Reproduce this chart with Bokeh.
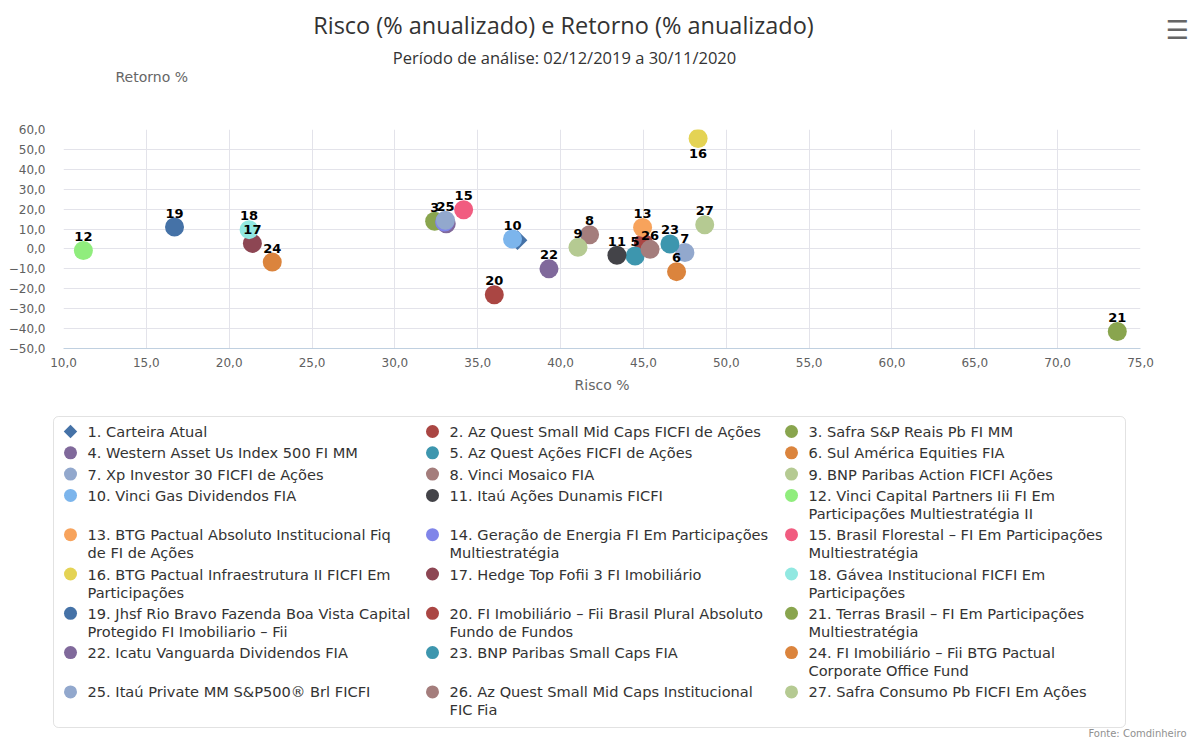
import numpy as np
from bokeh.plotting import figure
from bokeh.models import (Range1d, FixedTicker, CustomJSTickFormatter,
                          ColumnDataSource, BoxAnnotation)
from bokeh.embed import file_html
from bokeh.resources import INLINE
from bokeh.core.properties import value

# ---------------- data ----------------
ids = list(range(1, 28))
risco = [37.4, 45.0, 32.4, 33.1, 44.5, 47.0, 47.5, 41.75, 41.05, 37.1,
         43.4, 11.2, 44.95, 33.0, 34.15, 48.3, 21.4, 21.2, 16.7, 36.0,
         73.6, 39.3, 46.6, 22.6, 33.05, 45.4, 48.7]
retorno = [4.4, 3.0, 13.9, 12.7, -3.5, -11.4, -1.8, 7.1, 0.8, 5.0,
           -3.2, -0.8, 10.8, 13.5, 19.7, 55.5, 2.8, 9.7, 11.0, -23.0,
           -41.5, -10.0, 2.5, -6.6, 14.4, -0.2, 12.2]
names = [
    "Carteira Atual",
    "Az Quest Small Mid Caps FICFI de Ações",
    "Safra S&P Reais Pb FI MM",
    "Western Asset Us Index 500 FI MM",
    "Az Quest Ações FICFI de Ações",
    "Sul América Equities FIA",
    "Xp Investor 30 FICFI de Ações",
    "Vinci Mosaico FIA",
    "BNP Paribas Action FICFI Ações",
    "Vinci Gas Dividendos FIA",
    "Itaú Ações Dunamis FICFI",
    "Vinci Capital Partners Iii FI Em\nParticipações Multiestratégia II",
    "BTG Pactual Absoluto Institucional Fiq\nde FI de Ações",
    "Geração de Energia FI Em Participações\nMultiestratégia",
    "Brasil Florestal – FI Em Participações\nMultiestratégia",
    "BTG Pactual Infraestrutura II FICFI Em\nParticipações",
    "Hedge Top Fofii 3 FI Imobiliário",
    "Gávea Institucional FICFI Em\nParticipações",
    "Jhsf Rio Bravo Fazenda Boa Vista Capital\nProtegido FI Imobiliario – Fii",
    "FI Imobiliário – Fii Brasil Plural Absoluto\nFundo de Fundos",
    "Terras Brasil – FI Em Participações\nMultiestratégia",
    "Icatu Vanguarda Dividendos FIA",
    "BNP Paribas Small Caps FIA",
    "FI Imobiliário – Fii BTG Pactual\nCorporate Office Fund",
    "Itaú Private MM S&P500® Brl FICFI",
    "Az Quest Small Mid Caps Institucional\nFIC Fia",
    "Safra Consumo Pb FICFI Em Ações",
]
palette_a = ["#4572A7", "#AA4643", "#89A54E", "#80699B", "#3D96AE",
             "#DB843D", "#92A8CD", "#A47D7C", "#B5CA92"]
palette_b = ["#7cb5ec", "#434348", "#90ed7d", "#f7a35c", "#8085e9",
             "#f15c80", "#e4d354", "#8d4653", "#91e8e1"]
colors = palette_a + palette_b + palette_a
hidden_labels = [1, 2, 4, 14]
x_ticks = [10, 15, 20, 25, 30, 35, 40, 45, 50, 55, 60, 65, 70, 75]
y_ticks = [-50, -40, -30, -20, -10, 0, 10, 20, 30, 40, 50, 60]

title_txt = "Risco (% anualizado) e Retorno (% anualizado)"
subtitle_txt = "Período de análise: 02/12/2019 a 30/11/2020"
y_title_txt = "Retorno %"
x_title_txt = "Risco %"
source_txt = "Fonte: Comdinheiro"

W = 1188


def blank_fig(h):
    f = figure(width=W, height=h, output_backend="svg", toolbar_location=None,
               x_range=Range1d(0, W), y_range=Range1d(h, 0),
               x_axis_location=None, y_axis_location=None,
               min_border=0, min_border_left=0, min_border_right=0,
               min_border_top=0, min_border_bottom=0)
    f.outline_line_color = None
    f.grid.grid_line_color = None
    return f


# ---------------- header ----------------
HH = 100
hdr = blank_fig(HH)
hdr.text([563], [24], text=[title_txt], text_align="center", text_baseline="middle",
         text_font=value("Open Sans"), text_font_size="23.5px", text_color="#333333")
hdr.text([564], [57], text=[subtitle_txt], text_align="center", text_baseline="middle",
         text_font=value("Open Sans"), text_font_size="16.5px", text_color="#333333")
hdr.text([115], [76], text=[y_title_txt], text_align="left", text_baseline="middle",
         text_font=value("DejaVu Sans"), text_font_size="14px", text_color="#666666")
hdr.text([1177], [29], text=["\u2630"], text_align="center", text_baseline="middle",
         text_font=value("DejaVu Sans"), text_font_size="26px", text_font_style="bold",
         text_color="#666666")

# ---------------- chart ----------------
p = figure(width=W, height=300, output_backend="svg", toolbar_location=None,
           x_range=Range1d(10, 75), y_range=Range1d(-50, 60),
           min_border_left=63, min_border_right=W - 1140, min_border_top=29,
           min_border_bottom=52)
p.outline_line_color = None

fmt = CustomJSTickFormatter(code="return tick.toFixed(1).replace('.', ',').replace('-', '\u2212');")
p.xaxis.ticker = FixedTicker(ticks=x_ticks)
p.yaxis.ticker = FixedTicker(ticks=y_ticks)
for ax in (p.xaxis[0], p.yaxis[0]):
    ax.formatter = fmt
    ax.major_tick_in = 0
    ax.major_tick_out = 0
    ax.minor_tick_in = 0
    ax.minor_tick_out = 0
    ax.major_label_text_font = "DejaVu Sans"
    ax.major_label_text_font_size = "12px"
    ax.major_label_text_color = "#606060"
p.xaxis.axis_line_color = "#C0D0E0"
p.xaxis.major_label_standoff = 9
p.xaxis.axis_label = x_title_txt
p.xaxis.axis_label_text_font = "DejaVu Sans"
p.xaxis.axis_label_text_font_size = "14px"
p.xaxis.axis_label_text_font_style = "normal"
p.xaxis.axis_label_text_color = "#666666"
p.xaxis.axis_label_standoff = 7
p.yaxis.axis_line_color = None
p.yaxis.major_label_standoff = 18
p.grid.grid_line_color = "#e3e3ea"
p.grid.grid_line_width = 1

p.scatter([risco[0]], [retorno[0]], marker="square", angle=np.pi / 4, size=14,
          fill_color=colors[0], line_color=None)
src = ColumnDataSource(dict(x=risco[1:], y=retorno[1:], c=colors[1:]))
p.scatter("x", "y", source=src, marker="circle", size=19, fill_color="c",
          line_color=None)

above = dict(x=[], y=[], t=[])
below = dict(x=[], y=[], t=[])
for i, xv, yv in zip(ids, risco, retorno):
    if i in hidden_labels:
        continue
    d = below if yv > 50 else above
    d["x"].append(xv); d["y"].append(yv); d["t"].append(str(i))
common = dict(text_align="center", text_baseline="middle",
              text_font=value("DejaVu Sans"), text_font_style="bold",
              text_font_size="13px", text_color="#000000")
p.text("x", "y", text="t", source=ColumnDataSource(above), y_offset=-14, **common)
p.text("x", "y", text="t", source=ColumnDataSource(below), y_offset=15, **common)

# ---------------- legend ----------------
LH = 338
leg = blank_fig(LH)
leg.add_layout(BoxAnnotation(left=53, right=1125, top=16, bottom=327,
                             fill_alpha=0, line_color="#a0a0a0", line_width=1,
                             border_radius=5))

col_marker_x = [70, 432, 791]
text_dx = 17
row_y0 = 31
row_step = 21.3
line_h = 18
mk = dict(x=[], y=[], c=[])
tx = dict(x=[], y=[], t=[])
dia = dict(x=[], y=[], c=[])
yrow = row_y0
for r in range(0, len(ids), 3):
    row = ids[r:r + 3]
    nlines = max(len(names[i - 1].split("\n")) for i in row)
    for c, i in enumerate(row):
        mx = col_marker_x[c]
        tgt = dia if i == 1 else mk
        tgt["x"].append(mx); tgt["y"].append(yrow); tgt["c"].append(colors[i - 1])
        lines = names[i - 1].split("\n")
        lines[0] = f"{i}. {lines[0]}"
        for k, ln in enumerate(lines):
            tx["x"].append(mx + text_dx); tx["y"].append(yrow + k * line_h); tx["t"].append(ln)
    yrow += row_step + line_h * (nlines - 1)

leg.scatter("x", "y", source=ColumnDataSource(dia), marker="square", angle=np.pi / 4,
            size=9.5, fill_color="c", line_color=None)
leg.scatter("x", "y", source=ColumnDataSource(mk), marker="circle", size=13,
            fill_color="c", line_color=None)
leg.text("x", "y", text="t", source=ColumnDataSource(tx), text_align="left",
         text_baseline="middle", text_font=value("DejaVu Sans"),
         text_font_size="14.6px", text_color="#333333")
leg.text([W - 2], [333], text=[source_txt], text_align="right", text_baseline="middle",
         text_font=value("DejaVu Sans"), text_font_size="10px", text_color="#909090")

open("out.html", "w").write(file_html([hdr, p, leg], INLINE))
